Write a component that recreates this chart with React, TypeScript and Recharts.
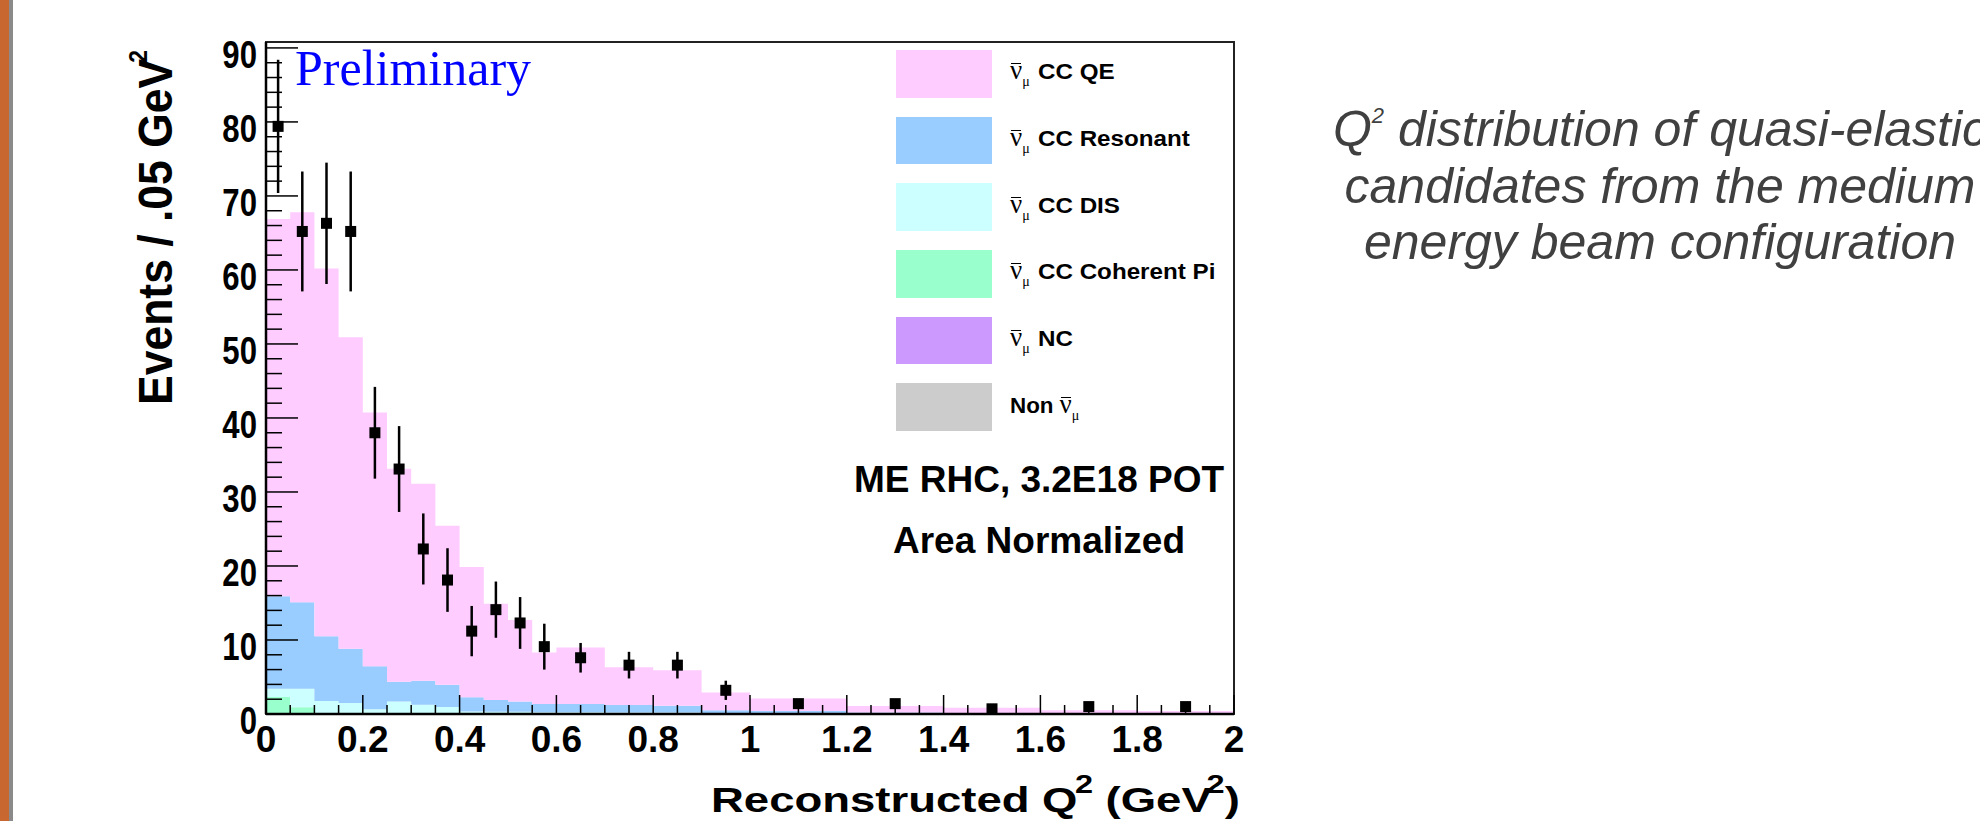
import React from 'react';
import { ComposedChart, Area, Scatter, ErrorBar, XAxis, YAxis, ReferenceArea, Legend, Customized } from 'recharts';

// Q^2 bin edges in GeV^2 (variable width, closing edge at 2.0)
const binEdges = [0, 0.05, 0.1, 0.15, 0.2, 0.25, 0.3, 0.35, 0.4, 0.45, 0.5, 0.55, 0.6, 0.7, 0.8, 0.9, 1.0, 1.2, 1.4, 1.6, 1.8, 2.0];

// simulated components, events / .05 GeV^2, stacked bottom to top
const nonNumu = [0, 0, 0, 0, 0, 0, 0, 0, 0, 0, 0, 0, 0, 0, 0, 0, 0, 0, 0, 0, 0];
const ncComp = [0, 0, 0, 0, 0, 0, 0, 0, 0, 0, 0, 0, 0, 0, 0, 0, 0, 0, 0, 0, 0];
const coherentPi = [2.3, 0.9, 0.1, 0.05, 0, 0, 0, 0, 0, 0, 0, 0, 0, 0, 0, 0, 0, 0, 0, 0, 0];
const ccDis = [1.1, 2.5, 1.65, 1.45, 0.65, 1.7, 1.25, 0.95, 0.35, 0.3, 0.3, 0.25, 0.25, 0.2, 0.2, 0.15, 0.1, 0.05, 0.05, 0.05, 0.05];
const ccResonant = [12.5, 11.7, 8.75, 7.3, 5.8, 2.65, 3.25, 3.0, 1.9, 1.6, 1.4, 1.1, 1.1, 1.0, 0.9, 0.35, 0.3, 0.15, 0.1, 0.05, 0.05];
const ccQE = [51.0, 52.7, 49.7, 42.1, 34.3, 28.8, 26.6, 21.5, 17.6, 13.0, 11.0, 6.95, 7.65, 5.1, 4.8, 2.4, 1.7, 0.88, 0.71, 0.4, 0.3];

// measured points at bin centres
const dataQ2 = [0.025, 0.075, 0.125, 0.175, 0.225, 0.275, 0.325, 0.375, 0.425, 0.475, 0.525, 0.575, 0.65, 0.75, 0.85, 0.95, 1.1, 1.3, 1.5, 1.7, 1.9];
const dataEvents = [79.4, 65.2, 66.3, 65.2, 38.0, 33.1, 22.3, 18.1, 11.2, 14.1, 12.3, 9.1, 7.6, 6.6, 6.6, 3.2, 1.4, 1.4, 0.7, 1.0, 1.0];
const dataErr = [9.0, 8.1, 8.2, 8.1, 6.2, 5.8, 4.8, 4.3, 3.4, 3.8, 3.5, 3.1, 2.0, 1.8, 1.8, 1.3, 0.6, 0.6, 0.4, 0.5, 0.5];

const legendNames = ['CC QE', 'CC Resonant', 'CC DIS', 'CC Coherent Pi', 'NC', 'Non'];
const legendColors = ['#ffccff', '#99ccff', '#ccffff', '#99ffcc', '#cc99ff', '#cccccc'];

const xTicks = Array.from({ length: 41 }, (_, i) => +(i * 0.05).toFixed(2));
const yTicks = Array.from({ length: 46 }, (_, i) => i * 2);
const Y_MAX = 90.8;

const W = 1980;
const H = 821;
// axes are 1px thick boxes, so the plot area lands at x 266..1234, y 42..714
const margin = { top: 42, right: 746, bottom: 106, left: 265 };
const sans = "'Liberation Sans', Arial, Helvetica, sans-serif";
const serif = "'Liberation Serif', 'Times New Roman', serif";

// step histogram rows; the last row repeats the final bin so the step closes at 2.0
const histRows = binEdges.map((q, i) => {
  const k = Math.min(i, ccQE.length - 1);
  return { q, non: nonNumu[k], nc: ncComp[k], coh: coherentPi[k], dis: ccDis[k], res: ccResonant[k], qe: ccQE[k] };
});

const points = dataQ2.map((q, i) => ({ q, v: dataEvents[i], err: dataErr[i] }));

const isMajorX = (v: number) => Math.abs(v / 0.2 - Math.round(v / 0.2)) < 1e-6;

const renderXTick = (props: any) => {
  const { x, y, payload } = props;
  const v = payload.value;
  const major = isMajorX(v);
  return (
    <g>
      <line x1={x} x2={x} y1={y} y2={y - (major ? 19 : 9)} stroke="#000" strokeWidth={1.5} />
      {major && (
        <text x={x} y={y + 38} textAnchor="middle" fontFamily={sans} fontWeight="bold" fontSize={37} fill="#000">
          {String(v)}
        </text>
      )}
    </g>
  );
};

const Y_TICK_GAP = 9;
const renderYTick = (props: any) => {
  const { x, y, payload } = props;
  const v = payload.value;
  const major = v % 10 === 0;
  const ax = x + Y_TICK_GAP;
  return (
    <g>
      <line x1={ax} x2={ax + (major ? 32 : 16)} y1={y} y2={y} stroke="#000" strokeWidth={1.5} />
      {major && (
        <text
          transform={`translate(${x},${y + 20}) scale(0.82,1)`}
          textAnchor="end"
          fontFamily={sans}
          fontWeight="bold"
          fontSize={38}
          fill="#000"
        >
          {String(v)}
        </text>
      )}
    </g>
  );
};

const squareMarker = (props: any) => (
  <rect x={props.cx - 5.5} y={props.cy - 5.5} width={11} height={11} fill="#000" />
);

const NuBar = () => (
  <span style={{ display: 'inline-flex', alignItems: 'baseline', fontWeight: 'normal' }}>
    <span style={{ position: 'relative', fontFamily: serif, fontSize: 27 }}>
      ν
      <span style={{ position: 'absolute', left: 1, right: 1, top: 8, borderTop: '1.5px solid #000' }} />
    </span>
    <span style={{ fontFamily: serif, fontSize: 14, position: 'relative', top: 7 }}>μ</span>
  </span>
);

const renderLegend = () => (
  <div style={{ fontFamily: sans, fontWeight: 'bold', fontSize: 22.4, color: '#000' }}>
    {legendNames.map((name, i) => (
      <div key={name} style={{ display: 'flex', alignItems: 'center', height: 47.7, marginBottom: 19 }}>
        <div style={{ width: 96, height: 47.7, background: legendColors[i], flexShrink: 0 }} />
        <div style={{ marginLeft: 18, position: 'relative', top: -3, display: 'flex', alignItems: 'baseline', whiteSpace: 'nowrap' }}>
          {name === 'Non' ? (
            <>
              <span style={{ marginRight: 6 }}>Non</span>
              <NuBar />
            </>
          ) : (
            <>
              <NuBar />
              <span style={{ marginLeft: 8, display: 'inline-block', transform: 'scaleX(1.08)', transformOrigin: 'left' }}>{name}</span>
            </>
          )}
        </div>
      </div>
    ))}
  </div>
);

const Annotations = () => (
  <g>
    <text x={295} y={85} fill="#0000ff" fontFamily={serif} fontSize={50}>Preliminary</text>
    <text x={1039} y={492} textAnchor="middle" fontFamily={sans} fontWeight="bold" fontSize={37} fill="#000">
      ME RHC, 3.2E18 POT
    </text>
    <text x={1039} y={553} textAnchor="middle" fontFamily={sans} fontWeight="bold" fontSize={37} fill="#000">
      Area Normalized
    </text>
    <text transform="translate(711,812) scale(1.3,1)" fontFamily={sans} fontWeight="bold" fontSize={35} fill="#000">
      Reconstructed Q
      <tspan dx={-2} dy={-19} fontSize={25}>2</tspan>
      <tspan dy={19} fontSize={35}> (GeV</tspan>
      <tspan dx={-4} dy={-19} fontSize={25}>2</tspan>
      <tspan dy={19} fontSize={35}>)</tspan>
    </text>
    <text transform="translate(172,405) scale(1.1,1) rotate(-90)" fontFamily={sans} fontWeight="bold" fontSize={44.5} fill="#000">
      Events / .05 GeV
      <tspan dx={-4} dy={-23} fontSize={23}>2</tspan>
    </text>
  </g>
);

const App: React.FC = () => {
  return (
    <div style={{ position: 'absolute', left: 0, top: 0, width: W, height: H, background: '#fff', overflow: 'hidden' }}>
      <div style={{ position: 'absolute', left: 0, top: 0, width: 9, height: H, background: '#c8672f' }} />
      <div style={{ position: 'absolute', left: 9, top: 0, width: 4, height: H, background: '#8a8a8a' }} />

      <div style={{ position: 'absolute', left: 0, top: 0 }}>
        <ComposedChart width={W} height={H} data={histRows} margin={margin}>
          <XAxis
            dataKey="q"
            type="number"
            domain={[0, 2]}
            ticks={xTicks}
            interval={0}
            height={1}
            tickSize={0}
            tickMargin={0}
            tickLine={false}
            axisLine={{ stroke: '#000', strokeWidth: 2.5 }}
            tick={renderXTick}
          />
          <YAxis
            type="number"
            domain={[0, Y_MAX]}
            ticks={yTicks}
            interval={0}
            width={1}
            tickSize={0}
            tickMargin={Y_TICK_GAP}
            tickLine={false}
            axisLine={{ stroke: '#000', strokeWidth: 2.5 }}
            tick={renderYTick}
          />
          <Area type="stepAfter" dataKey="non" stackId="mc" fill={legendColors[5]} fillOpacity={1} stroke="none" isAnimationActive={false} activeDot={false} />
          <Area type="stepAfter" dataKey="nc" stackId="mc" fill={legendColors[4]} fillOpacity={1} stroke="none" isAnimationActive={false} activeDot={false} />
          <Area type="stepAfter" dataKey="coh" stackId="mc" fill={legendColors[3]} fillOpacity={1} stroke="none" isAnimationActive={false} activeDot={false} />
          <Area type="stepAfter" dataKey="dis" stackId="mc" fill={legendColors[2]} fillOpacity={1} stroke="none" isAnimationActive={false} activeDot={false} />
          <Area type="stepAfter" dataKey="res" stackId="mc" fill={legendColors[1]} fillOpacity={1} stroke="none" isAnimationActive={false} activeDot={false} />
          <Area type="stepAfter" dataKey="qe" stackId="mc" fill={legendColors[0]} fillOpacity={1} stroke="none" isAnimationActive={false} activeDot={false} />
          <ReferenceArea x1={0} x2={2} y1={0} y2={Y_MAX} fill="none" stroke="#222" strokeWidth={2} ifOverflow="visible" />
          <Scatter data={points} dataKey="v" shape={squareMarker} isAnimationActive={false} legendType="none">
            <ErrorBar dataKey="err" direction="y" width={0} stroke="#000" strokeWidth={2.5} isAnimationActive={false} />
          </Scatter>
          <Legend
            layout="vertical"
            align="center"
            verticalAlign="middle"
            content={renderLegend}
            wrapperStyle={{ left: 896, top: 50, width: 340, height: 400 }}
          />
          <Customized component={Annotations} />
        </ComposedChart>
      </div>

      <div
        style={{
          position: 'absolute',
          left: 1310,
          top: 101,
          width: 700,
          textAlign: 'center',
          fontFamily: sans,
          fontStyle: 'italic',
          fontSize: 50,
          lineHeight: '56.5px',
          color: '#404040',
          whiteSpace: 'nowrap',
        }}
      >
        Q<span style={{ fontSize: 22, position: 'relative', top: -23, lineHeight: 0 }}>2</span> distribution of quasi-elastic
        <br />
        candidates from the medium
        <br />
        energy beam configuration
      </div>
    </div>
  );
};

export default App;
